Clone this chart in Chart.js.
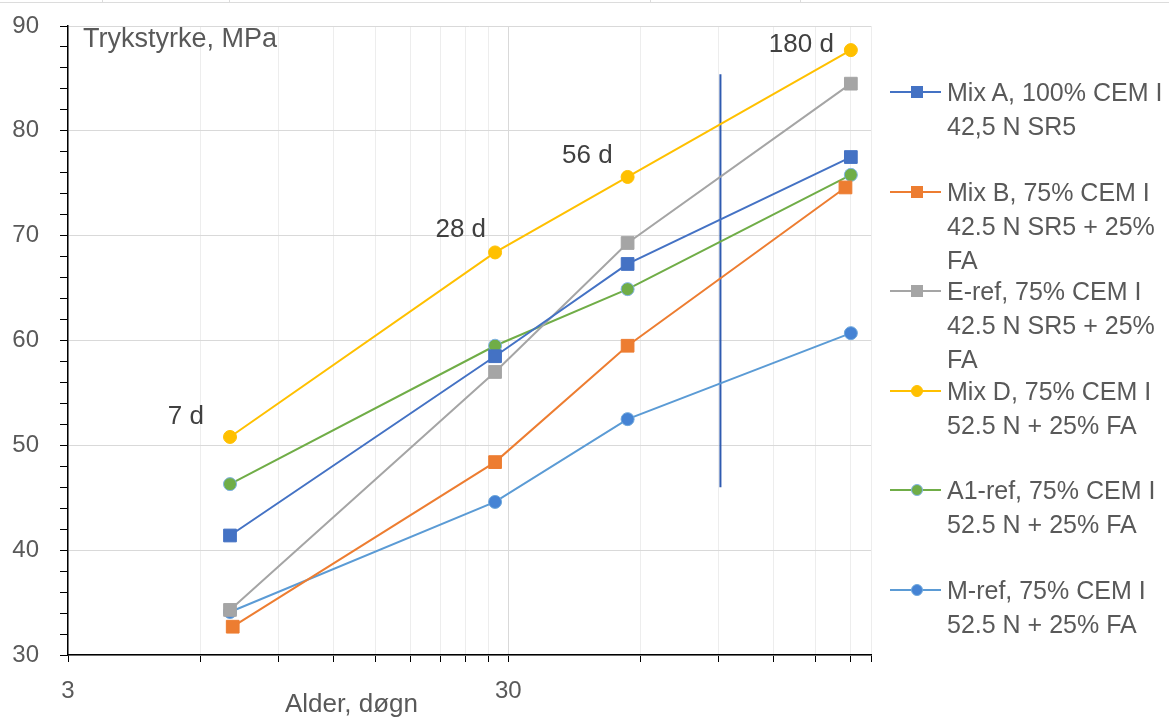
<!DOCTYPE html>
<html>
<head>
<meta charset="utf-8">
<title>Trykstyrke</title>
<script src="https://cdn.jsdelivr.net/npm/chart.js@4.4.1/dist/chart.umd.min.js"></script>
<style>
    body { margin: 0; background: #fff; font-family: "Liberation Sans", Arial, sans-serif; }
    #wrap { position: relative; width: 1169px; height: 719px; overflow: hidden; }
    #chart { position: absolute; left: 0; top: 0; }
    #topline { position: absolute; left: 0; top: 2px; width: 1169px; height: 1px; background: #dcdcdc; }
    .sep { position: absolute; top: 0; width: 1px; height: 3px; background: #dcdcdc; }
    #legend { position: absolute; left: 890px; top: 75px; color: #595959; font-size: 25px; }
    .item { position: relative; height: 99.6px; }
    .sym-line { position: absolute; left: 0; top: 16px; width: 51px; height: 2px; }
    .sym-mark { position: absolute; left: 21px; top: 11px; width: 12px; height: 12px; box-sizing: border-box; }
    .txt { position: absolute; left: 57px; top: 0; line-height: 34px; white-space: nowrap; }
</style>
</head>
<body>
<div id="wrap">
    <div id="topline"></div>
    <div class="sep" style="left:102px"></div>
    <div class="sep" style="left:229px"></div>
    <div class="sep" style="left:650px"></div>
    <div class="sep" style="left:800px"></div>
    <canvas id="chart" width="1169" height="719"></canvas>
    <div id="legend"></div>
</div>
<script>
// alder i døgn
const ages = [7, 28, 56, 180];
const agesMixB = [7.1, 28, 56, 175];

const mixA = [41.4, 58.5, 67.3, 77.5];
const mixB = [32.7, 48.4, 59.5, 74.6];
const eRef = [34.3, 57.0, 69.3, 84.5];
const mixD = [50.8, 68.4, 75.6, 87.7];
const a1Ref = [46.3, 59.5, 64.9, 75.8];
const mRef = [34.1, 44.6, 52.5, 60.7];

const seriesNames = [
    ['Mix A, 100% CEM I', '42,5 N SR5'],
    ['Mix B, 75% CEM I', '42.5 N SR5 + 25%', 'FA'],
    ['E-ref, 75% CEM I', '42.5 N SR5 + 25%', 'FA'],
    ['Mix D, 75% CEM I', '52.5 N + 25% FA'],
    ['A1-ref, 75% CEM I', '52.5 N + 25% FA'],
    ['M-ref, 75% CEM I', '52.5 N + 25% FA'],
];

const ageLabels = ['7 d', '28 d', '56 d', '180 d'];

// loddrett markeringslinje
const markerAge = 91;
const markerRange = [46, 85.4];

const xTicks = [3, 6, 9, 12, 15, 18, 21, 24, 27, 30, 60, 90, 120, 150, 180, 200];
const xTickLabels = [3, 30];

const yTitle = 'Trykstyrke, MPa';
const xTitle = 'Alder, døgn';

const FONT = '"Liberation Sans", Arial, sans-serif';

function points(xs, ys) {
    return xs.map(function (x, i) { return { x: x, y: ys[i] }; });
}

const styles = [
    { color: '#4472C4', fill: '#4472C4', border: '#4472C4', shape: 'rect' },
    { color: '#ED7D31', fill: '#ED7D31', border: '#ED7D31', shape: 'rect' },
    { color: '#A5A5A5', fill: '#A5A5A5', border: '#A5A5A5', shape: 'rect' },
    { color: '#FFC000', fill: '#FFC000', border: '#FFC000', shape: 'circle' },
    { color: '#70AD47', fill: '#70AD47', border: '#7FB2E5', shape: 'circle' },
    { color: '#5B9BD5', fill: '#4583D4', border: '#6FA8DC', shape: 'circle' },
];

const seriesData = [
    points(ages, mixA),
    points(agesMixB, mixB),
    points(ages, eRef),
    points(ages, mixD),
    points(ages, a1Ref),
    points(ages, mRef),
];

const datasets = seriesData.map(function (d, i) {
    const s = styles[i];
    return {
        label: seriesNames[i].join(' '),
        data: d,
        showLine: true,
        borderColor: s.color,
        borderWidth: 2,
        backgroundColor: s.fill,
        pointBackgroundColor: s.fill,
        pointBorderColor: s.border,
        pointBorderWidth: 1,
        pointStyle: s.shape,
        pointRadius: s.shape === 'rect' ? 9 : 6.5,
        pointHoverRadius: s.shape === 'rect' ? 9 : 6.5,
    };
});

datasets.push({
    label: 'marker',
    data: [{ x: markerAge, y: markerRange[0] }, { x: markerAge, y: markerRange[1] }],
    showLine: true,
    borderColor: '#2F5BB0',
    borderWidth: 2,
    pointRadius: 0,
});

// tekster i plottet: y-tittel, x-tittel, alderetiketter ved Mix D
const labelOffsets = [[-26, -13], [-9, -15], [-15, -14], [-17, 2]];

const textPlugin = {
    id: 'texts',
    afterDatasetsDraw: function (chart) {
        const ctx = chart.ctx;
        const xs = chart.scales.x;
        const ys = chart.scales.y;
        ctx.save();
        ctx.fillStyle = '#595959';
        ctx.textAlign = 'left';
        ctx.textBaseline = 'alphabetic';
        ctx.font = '27px ' + FONT;
        ctx.fillText(yTitle, chart.chartArea.left + 15, chart.chartArea.top + 21);
        ctx.font = '26px ' + FONT;
        ctx.fillText(xTitle, 285, 712);
        ctx.fillStyle = '#404040';
        ctx.textAlign = 'right';
        ageLabels.forEach(function (t, i) {
            const px = xs.getPixelForValue(ages[i]);
            const py = ys.getPixelForValue(mixD[i]);
            ctx.fillText(t, px + labelOffsets[i][0], py + labelOffsets[i][1]);
        });
        ctx.restore();
    }
};

new Chart(document.getElementById('chart'), {
    type: 'scatter',
    data: { datasets: datasets },
    plugins: [textPlugin],
    options: {
        responsive: false,
        animation: false,
        layout: { padding: { left: 0, top: 26, right: 298, bottom: 0 } },
        plugins: {
            legend: { display: false },
            tooltip: { enabled: false },
        },
        scales: {
            x: {
                type: 'logarithmic',
                min: 3,
                max: 200,
                afterBuildTicks: function (scale) {
                    scale.ticks = xTicks.map(function (v) {
                        return { value: v, major: xTickLabels.indexOf(v) >= 0 };
                    });
                },
                afterFit: function (scale) {
                    scale.height = 64;
                    scale.paddingLeft = 0;
                    scale.paddingRight = 0;
                },
                ticks: {
                    autoSkip: false,
                    maxRotation: 0,
                    padding: 15,
                    color: '#595959',
                    font: { family: FONT, size: 24 },
                    callback: function (v) {
                        return xTickLabels.indexOf(v) >= 0 ? String(v) : '';
                    },
                },
                grid: {
                    color: function (c) {
                        if (!c.tick) return '#EFEFEF';
                        return c.tick.value === 30 ? '#D9D9D9' : '#EDEDED';
                    },
                    lineWidth: 1,
                    tickLength: 7,
                    tickColor: '#000',
                    tickWidth: 1,
                },
                border: { color: '#000', width: 1.5 },
            },
            y: {
                min: 30,
                max: 90,
                afterFit: function (scale) {
                    scale.width = 68;
                    scale.paddingTop = 0;
                    scale.paddingBottom = 0;
                },
                ticks: {
                    stepSize: 2,
                    autoSkip: false,
                    padding: 21,
                    color: '#595959',
                    font: { family: FONT, size: 24 },
                    callback: function (v) { return v % 10 === 0 ? String(v) : ''; },
                },
                grid: {
                    color: function (c) {
                        if (!c.tick) return 'rgba(0,0,0,0)';
                        return c.tick.value % 10 === 0 ? '#D9D9D9' : 'rgba(0,0,0,0)';
                    },
                    lineWidth: 1,
                    tickLength: 8,
                    tickColor: '#000',
                    tickWidth: 1,
                },
                border: { color: '#000', width: 1.5 },
            },
        },
    },
});

// legende til høyre
const legend = document.getElementById('legend');
seriesNames.forEach(function (lines, i) {
    const s = styles[i];
    const item = document.createElement('div');
    item.className = 'item';
    const line = document.createElement('div');
    line.className = 'sym-line';
    line.style.background = s.color;
    const mark = document.createElement('div');
    mark.className = 'sym-mark';
    mark.style.background = s.fill;
    mark.style.border = '1px solid ' + s.border;
    if (s.shape === 'circle') mark.style.borderRadius = '50%';
    const txt = document.createElement('div');
    txt.className = 'txt';
    txt.innerHTML = lines.join('<br>');
    item.appendChild(line);
    item.appendChild(mark);
    item.appendChild(txt);
    legend.appendChild(item);
});
</script>
</body>
</html>
